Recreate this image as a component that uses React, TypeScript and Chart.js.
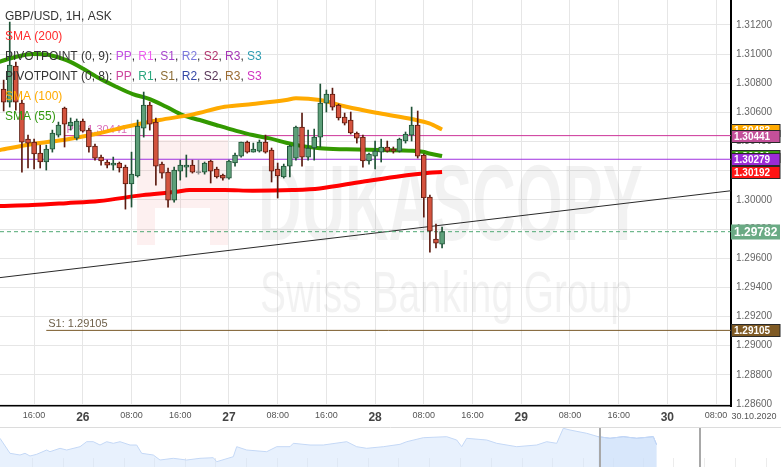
import React, { useEffect, useRef } from "react";
import { Chart, registerables } from "chart.js";

Chart.register(...registerables);

const FONT = "'Liberation Sans', Arial, Helvetica, sans-serif";

// ---- DATA (hours since 26.10.2020 00:00) ----
const candleHours = [
  -13, -12, -11, -10, -9, -8, -7, -6, -5, -4, -3, -2, -1,
  0, 1, 2, 3, 4, 5, 6, 7, 8, 9, 10, 11, 12, 13, 14, 15, 16, 17, 18, 19, 20, 21, 22, 23,
  24, 25, 26, 27, 28, 29, 30, 31, 32, 33, 34, 35, 36, 37, 38, 39, 40, 41, 42, 43, 44, 45, 46, 47,
  48, 49, 50, 51, 52, 53, 54, 55, 56, 57, 58, 59,
];
const opens = [
  1.3076, 1.30671, 1.30918, 1.30664, 1.30417, 1.30397, 1.30321, 1.3026, 1.30349, 1.30445, 1.3063, 1.30507, 1.30424,
  1.30541, 1.30479, 1.30369, 1.30294, 1.3026, 1.30239, 1.30253, 1.30225, 1.30109, 1.30164, 1.30493, 1.30651, 1.30534, 1.30246, 1.30191, 1.29999, 1.30198, 1.30225, 1.30239, 1.30187, 1.30191, 1.30267, 1.30212, 1.30171,
  1.3015, 1.30253, 1.30301, 1.30397, 1.30328, 1.30335, 1.30397, 1.30342, 1.30212, 1.30157, 1.30232, 1.30287, 1.305, 1.30294, 1.30356, 1.30431, 1.30664, 1.30726, 1.30651, 1.30568, 1.30548, 1.30459, 1.30431, 1.30267,
  1.30301, 1.30328, 1.30363, 1.30349, 1.30335, 1.30404, 1.30445, 1.30514, 1.30308, 1.3002, 1.29732, 1.29697,
];
const highs = [
  1.30822, 1.3122, 1.30946, 1.30685, 1.30445, 1.30417, 1.30376, 1.30376, 1.30479, 1.30534, 1.30637, 1.30562, 1.30555,
  1.30555, 1.30493, 1.30383, 1.30308, 1.30273, 1.30294, 1.3026, 1.30239, 1.30328, 1.30548, 1.3074, 1.30671, 1.30562, 1.3026, 1.30219, 1.30225, 1.30273, 1.30308, 1.30273, 1.30273, 1.3026, 1.30273, 1.30225, 1.30177,
  1.30273, 1.30321, 1.30397, 1.30404, 1.3039, 1.30411, 1.30445, 1.30356, 1.30253, 1.30246, 1.30376, 1.30507, 1.30596, 1.30479, 1.30486, 1.30795, 1.30754, 1.30767, 1.30658, 1.30596, 1.30603, 1.30466, 1.30445, 1.30321,
  1.30404, 1.30417, 1.30404, 1.30363, 1.30424, 1.30466, 1.30637, 1.3061, 1.30315, 1.30033, 1.29834, 1.29814,
];
const lows = [
  1.3061, 1.30637, 1.30616, 1.30191, 1.30219, 1.30212, 1.30219, 1.30205, 1.30328, 1.30431, 1.30363, 1.30479, 1.30411,
  1.30466, 1.30328, 1.30273, 1.30239, 1.30219, 1.30205, 1.30191, 1.29937, 1.29951, 1.30157, 1.30431, 1.30479, 1.30102, 1.3015, 1.29951, 1.29985, 1.30136, 1.30157, 1.30184, 1.30177, 1.30177, 1.30116, 1.3015, 1.30136,
  1.30143, 1.30232, 1.30294, 1.30321, 1.30328, 1.30328, 1.30321, 1.30123, 1.30013, 1.3015, 1.30157, 1.30273, 1.30232, 1.30273, 1.30273, 1.30363, 1.30603, 1.30616, 1.30548, 1.30514, 1.30452, 1.3039, 1.30225, 1.30246,
  1.30212, 1.3026, 1.30328, 1.30321, 1.30328, 1.3039, 1.30404, 1.30287, 1.29882, 1.29642, 1.2967, 1.2967,
];
const closes = [
  1.30671, 1.30925, 1.30671, 1.30397, 1.3039, 1.30315, 1.3026, 1.30349, 1.30459, 1.30514, 1.3052, 1.30534, 1.30541,
  1.30472, 1.30363, 1.30287, 1.30267, 1.30239, 1.30253, 1.30219, 1.30109, 1.30177, 1.30507, 1.30651, 1.3052, 1.30232, 1.30184, 1.29999, 1.30205, 1.30239, 1.30239, 1.30191, 1.30187, 1.30253, 1.30198, 1.30157, 1.3015,
  1.30267, 1.30308, 1.30397, 1.30328, 1.30349, 1.30397, 1.30328, 1.30198, 1.30164, 1.30232, 1.30369, 1.305, 1.30294, 1.30356, 1.30431, 1.30664, 1.30726, 1.30637, 1.30562, 1.30527, 1.30459, 1.30424, 1.30267, 1.30315,
  1.30335, 1.30363, 1.30335, 1.30335, 1.30417, 1.30452, 1.30514, 1.30301, 1.30013, 1.29786, 1.29704, 1.29782,
];

const sma200Hours = [-13.7, -8.3, -2.7, 2.7, 9.8, 15.4, 17.5, 23.3, 27.9, 34.4, 38.9, 45.9, 51.5, 56.9, 59];
const sma200Values = [1.29958, 1.29965, 1.29978, 1.29992, 1.30033, 1.30056, 1.30068, 1.30068, 1.30063, 1.30068, 1.30079, 1.30125, 1.30159, 1.30186, 1.30192];

const sma100Hours = [-13.7, -8.2, -2.7, 2.7, 7.1, 12.6, 18.1, 23.3, 27.9, 33.4, 35.0, 38.9, 43.3, 48.7, 54.2, 56.9, 59];
const sma100Values = [1.30342, 1.30383, 1.30415, 1.30457, 1.30502, 1.30548, 1.30587, 1.30639, 1.30658, 1.30685, 1.30697, 1.30685, 1.30639, 1.30594, 1.30553, 1.30525, 1.30483];

const sma55Hours = [-13.7, -10.9, -8.2, -5.5, -2.7, 0, 2.7, 5.5, 8.2, 11.0, 13.7, 16.4, 19.2, 21.9, 25.2, 27.9, 30.7, 33.4, 36.1, 38.9, 43.3, 48.7, 54.2, 55.8, 56.9, 59];
const sma55Values = [1.30948, 1.30982, 1.31001, 1.30994, 1.30959, 1.30902, 1.30834, 1.30776, 1.30726, 1.30692, 1.30639, 1.30582, 1.30548, 1.30514, 1.30474, 1.30445, 1.30422, 1.30392, 1.30369, 1.30354, 1.30347, 1.30342, 1.30337, 1.3033, 1.30319, 1.30301];

const pivotLevels = [1.30441, 1.30279, 1.29105];
const pivotStartHours = [-3, -13.6, -6];
const pivotLabels = ["PP: 1.30441", "", "S1: 1.29105"];
const currentPrice = 1.29782;
const trendHours = [-13.6, 106.45];
const trendValues = [1.29467, 1.30063];

const X_MIN = -13.6;
const X_MAX = 106.45;
const Y_MIN = 1.285863;
const Y_MAX = 1.313715;
const xTickHours = [-8, 0, 8, 16, 24, 32, 40, 48, 56, 64, 72, 80, 88, 96, 104];
const xTickLabels = ["16:00", "26", "08:00", "16:00", "27", "08:00", "16:00", "28", "08:00", "16:00", "29", "08:00", "16:00", "30", "08:00"];
const dayTickFlags = [false, true, false, false, true, false, false, true, false, false, true, false, false, true, false];
const yTickValues = [1.286, 1.288, 1.29, 1.292, 1.294, 1.296, 1.298, 1.3, 1.302, 1.304, 1.306, 1.308, 1.31, 1.312];
const cornerDateLabel = "30.10.2020";

// navigator (overview) series
const navX = [0, 10, 20, 25, 30, 36.7, 46.7, 50, 60, 66.7, 80, 86.7, 93.3, 100, 106.7, 113.3, 120, 130, 136.7, 141.7, 153.3, 160, 173.3, 186.7, 200, 213.3, 216.7, 233.3, 236.7, 246.7, 266.7, 276.7, 290, 293.3, 310, 323.3, 346.7, 356.7, 366.7, 383.3, 400, 406.7, 423.3, 446.7, 456.7, 461.7, 466.7, 486.7, 496.7, 516.7, 536.7, 546.7, 556.7, 563.3, 570, 586.7, 598.3, 610, 623.3, 636.7, 653.3, 656.7];
const navV = [28.7, 13.7, 12, 13.7, 11, 12.7, 17, 15.3, 18.7, 17, 20.3, 25.3, 25.3, 22, 25.3, 23.7, 25.3, 22, 22, 13.7, 12, 7, 8.7, 7, 8.7, 9.3, 5.3, 10.3, 20.3, 17, 15.3, 20.3, 20.3, 23.7, 22, 22, 25.3, 20.3, 18.7, 20.3, 22.7, 25.3, 29.3, 30.3, 27, 20.3, 28.7, 27, 23.7, 20.3, 22, 25.3, 23.7, 38.7, 37, 33.7, 30.3, 28.7, 30.3, 28.7, 30.3, 22];
const navSelectionStart = 598;
const navHandles = [600, 700];
const navTicks = [32, 63, 93, 124, 154, 185, 215, 246, 277, 307, 337, 368, 398, 429, 460, 491, 522, 552, 583, 613, 643, 673, 704, 735, 766];

const legendLines: { t: string; c: string }[][] = [
  [{ t: "GBP/USD, 1H, ASK", c: "#333" }],
  [{ t: "SMA (200)", c: "#ff2b2b" }],
  [
    { t: "PIVOTPOINT (0, 9): ", c: "#333" }, { t: "PP", c: "#c24ee0" }, { t: ", ", c: "#333" },
    { t: "R1", c: "#ee5cee" }, { t: ", ", c: "#333" }, { t: "S1", c: "#a642cc" }, { t: ", ", c: "#333" },
    { t: "R2", c: "#7a78dc" }, { t: ", ", c: "#333" }, { t: "S2", c: "#b0336c" }, { t: ", ", c: "#333" },
    { t: "R3", c: "#a434b4" }, { t: ", ", c: "#333" }, { t: "S3", c: "#2d9bb0" },
  ],
  [
    { t: "PIVOTPOINT (0, 8): ", c: "#333" }, { t: "PP", c: "#cc459e" }, { t: ", ", c: "#333" },
    { t: "R1", c: "#2aa87e" }, { t: ", ", c: "#333" }, { t: "S1", c: "#8c6c34" }, { t: ", ", c: "#333" },
    { t: "R2", c: "#3447a6" }, { t: ", ", c: "#333" }, { t: "S2", c: "#573557" }, { t: ", ", c: "#333" },
    { t: "R3", c: "#9a6b32" }, { t: ", ", c: "#333" }, { t: "S3", c: "#d032c0" },
  ],
  [{ t: "SMA (100)", c: "#ffaa00" }],
  [{ t: "SMA (55)", c: "#339911" }],
];

const UP_FILL = "#5d9f79";
const UP_EDGE = "#1f5236";
const DN_FILL = "#d4533e";
const DN_EDGE = "#5c1a0f";
const FLAT = "#8c8c8c";

export default function App() {
  const mainRef = useRef<HTMLCanvasElement>(null);
  const navRef = useRef<HTMLCanvasElement>(null);

  useEffect(() => {
    document.body.style.margin = "0";
    Chart.defaults.font.family = FONT;

    const dir = (i: number) => (closes[i] > opens[i] ? 1 : closes[i] < opens[i] ? -1 : 0);
    const bodyFill = candleHours.map((_, i) => (dir(i) > 0 ? UP_FILL : dir(i) < 0 ? DN_FILL : FLAT));
    const bodyEdge = candleHours.map((_, i) => (dir(i) > 0 ? UP_EDGE : dir(i) < 0 ? DN_EDGE : FLAT));

    const fullSpan = (level: number, start: number) => [
      { x: start, y: level },
      { x: X_MAX, y: level },
    ];

    const zeroPad = (s: any) => {
      s.paddingLeft = 0;
      s.paddingRight = 0;
      s.paddingTop = 0;
      s.paddingBottom = 0;
    };

    const overlay = {
      id: "overlay",
      beforeDatasetsDraw(chart: any) {
        const { ctx, chartArea: a, scales } = chart;
        const x = scales.x;
        const y = scales.y;
        ctx.save();
        ctx.beginPath();
        ctx.rect(a.left, a.top, a.right - a.left, a.bottom - a.top);
        ctx.clip();
        // watermark
        ctx.fillStyle = "rgba(225, 70, 70, 0.08)";
        ctx.fillRect(137, 140, 91, 68);
        ctx.fillRect(137, 208, 18, 37);
        ctx.fillRect(210, 208, 18, 37);
        ctx.fillStyle = "rgba(0, 0, 0, 0.05)";
        ctx.textBaseline = "alphabetic";
        ctx.textAlign = "left";
        ctx.font = `bold 108px ${FONT}`;
        ctx.fillText("DUKASCOPY", 258, 240, 385);
        ctx.font = `58px ${FONT}`;
        ctx.fillText("Swiss Banking Group", 260, 312, 372);
        // pivot labels
        ctx.font = `11px ${FONT}`;
        pivotLabels.forEach((lab, i) => {
          if (!lab) return;
          const px = x.getPixelForValue(pivotStartHours[i]);
          const py = y.getPixelForValue(pivotLevels[i]);
          ctx.fillStyle = i === 0 ? "rgba(204, 60, 160, 0.75)" : "#6e604a";
          ctx.fillText(lab, px + 2, py - 3);
        });
        ctx.restore();
      },
      afterDraw(chart: any) {
        const { ctx, chartArea: a, scales } = chart;
        const y = scales.y;
        ctx.save();
        // value boxes on the price axis
        const boxes = [
          { v: sma100Values[sma100Values.length - 1], bg: "#ffaa00", h: 12, fs: 10, edge: true },
          { v: sma55Values[sma55Values.length - 1], bg: "#3a9a10", h: 12, fs: 10, edge: true },
          { v: pivotLevels[0], bg: "#c4509a", h: 12, fs: 10, edge: true },
          { v: pivotLevels[1], bg: "#9b2bd6", h: 12, fs: 10, edge: true },
          { v: sma200Values[sma200Values.length - 1], bg: "#ff1414", h: 12, fs: 10, edge: true },
          { v: currentPrice, bg: "#6aaa84", h: 15, fs: 12, edge: false },
          { v: pivotLevels[2], bg: "#7f5a24", h: 12, fs: 10, edge: true },
        ];
        boxes.forEach((b) => {
          const py = y.getPixelForValue(b.v);
          const top = Math.round(py - b.h / 2) + 0.5;
          ctx.fillStyle = b.bg;
          ctx.fillRect(a.right, top, 49, b.h);
          if (b.edge) {
            ctx.strokeStyle = "#2a2a2a";
            ctx.lineWidth = 1;
            ctx.strokeRect(a.right + 0.5, top, 48.5, b.h);
          }
          ctx.fillStyle = "#fff";
          ctx.font = `bold ${b.fs}px ${FONT}`;
          ctx.textAlign = "left";
          ctx.textBaseline = "middle";
          ctx.fillText(b.v.toFixed(5), a.right + 3, top + b.h / 2 + 0.5);
        });
        // legend
        ctx.font = `12px ${FONT}`;
        ctx.textBaseline = "middle";
        const legendY = [16.5, 36.5, 56.5, 76.5, 97, 116.5];
        legendLines.forEach((parts, li) => {
          let cx = 5;
          parts.forEach((p) => {
            ctx.fillStyle = p.c;
            ctx.fillText(p.t, cx, legendY[li]);
            cx += ctx.measureText(p.t).width;
          });
        });
        // corner date label
        ctx.font = `9px ${FONT}`;
        ctx.fillStyle = "#555";
        ctx.textAlign = "center";
        ctx.fillText(cornerDateLabel, 754, 417);
        ctx.restore();
      },
    };

    const main = new Chart(mainRef.current as HTMLCanvasElement, {
      type: "bar",
      data: {
        datasets: [
          {
            type: "bar",
            label: "bodies",
            order: 0,
            data: candleHours.map((h, i) => ({ x: h, y: [opens[i], closes[i]] })) as any,
            backgroundColor: bodyFill,
            borderColor: bodyEdge,
            borderWidth: 1,
            borderSkipped: false,
            barThickness: 5,
            minBarLength: 1,
            grouped: false,
          } as any,
          {
            type: "bar",
            label: "wicks",
            order: 1,
            data: candleHours.map((h, i) => ({ x: h, y: [lows[i], highs[i]] })) as any,
            backgroundColor: bodyEdge,
            borderWidth: 0,
            barThickness: 1,
            grouped: false,
          } as any,
          {
            type: "line",
            label: "SMA (200)",
            order: 2,
            data: sma200Hours.map((h, i) => ({ x: h, y: sma200Values[i] })),
            borderColor: "#ff0000",
            borderWidth: 4,
            pointRadius: 0,
            cubicInterpolationMode: "monotone",
          } as any,
          {
            type: "line",
            label: "SMA (100)",
            order: 2,
            data: sma100Hours.map((h, i) => ({ x: h, y: sma100Values[i] })),
            borderColor: "#ffaa00",
            borderWidth: 4,
            pointRadius: 0,
            cubicInterpolationMode: "monotone",
          } as any,
          {
            type: "line",
            label: "SMA (55)",
            order: 2,
            data: sma55Hours.map((h, i) => ({ x: h, y: sma55Values[i] })),
            borderColor: "#339900",
            borderWidth: 4,
            pointRadius: 0,
            cubicInterpolationMode: "monotone",
          } as any,
          {
            type: "line",
            label: "PP",
            order: 3,
            data: fullSpan(pivotLevels[0], pivotStartHours[0]),
            borderColor: "#cc3399",
            borderWidth: 1,
            pointRadius: 0,
          } as any,
          {
            type: "line",
            label: "PP2",
            order: 3,
            data: fullSpan(pivotLevels[1], pivotStartHours[1]),
            borderColor: "#a030e0",
            borderWidth: 1,
            pointRadius: 0,
          } as any,
          {
            type: "line",
            label: "S1",
            order: 3,
            data: fullSpan(pivotLevels[2], pivotStartHours[2]),
            borderColor: "#7a5a2a",
            borderWidth: 1,
            pointRadius: 0,
          } as any,
          {
            type: "line",
            label: "price",
            order: 3,
            data: fullSpan(currentPrice, X_MIN),
            borderColor: "#4fa873",
            borderWidth: 1,
            borderDash: [4, 3],
            pointRadius: 0,
          } as any,
          {
            type: "line",
            label: "trend",
            order: 3,
            data: trendHours.map((h, i) => ({ x: h, y: trendValues[i] })),
            borderColor: "#2a2a2a",
            borderWidth: 1,
            pointRadius: 0,
          } as any,
        ],
      },
      options: {
        responsive: false,
        animation: false,
        devicePixelRatio: 1,
        events: [],
        layout: { padding: 0 },
        plugins: { legend: { display: false }, tooltip: { enabled: false } },
        scales: {
          x: {
            type: "linear",
            min: X_MIN,
            max: X_MAX,
            offset: false,
            afterBuildTicks: (s: any) => {
              s.ticks = xTickHours.map((v) => ({ value: v }));
            },
            afterFit: (s: any) => {
              s.height = 21;
              zeroPad(s);
            },
            grid: { color: "#e6e6e6", drawTicks: false, offset: false },
            border: { display: true, color: "#000", width: 1.5 },
            ticks: {
              autoSkip: false,
              maxRotation: 0,
              padding: 4,
              callback: (_v: any, i: number) => xTickLabels[i],
              font: (c: any) =>
                dayTickFlags[c.index]
                  ? { size: 12, weight: "bold", family: FONT }
                  : { size: 9, family: FONT },
              color: (c: any) => (dayTickFlags[c.index] ? "#444" : "#555"),
            },
          } as any,
          y: {
            type: "linear",
            position: "right",
            min: Y_MIN,
            max: Y_MAX,
            afterBuildTicks: (s: any) => {
              s.ticks = yTickValues.map((v) => ({ value: v }));
            },
            afterFit: (s: any) => {
              s.width = 50;
              zeroPad(s);
            },
            grid: { color: "#e6e6e6", drawTicks: false },
            border: { display: true, color: "#000", width: 2 },
            ticks: {
              padding: 5,
              font: { size: 10, family: FONT },
              color: "#666",
              callback: (v: any) => Number(v).toFixed(5),
            },
          } as any,
        },
      } as any,
      plugins: [overlay],
    });

    const navPlugin = {
      id: "navDeco",
      beforeDatasetsDraw(chart: any) {
        const { ctx, scales } = chart;
        ctx.save();
        ctx.strokeStyle = "#ececec";
        ctx.lineWidth = 1;
        navTicks.forEach((t) => {
          const px = Math.round(scales.x.getPixelForValue(t)) + 0.5;
          ctx.beginPath();
          ctx.moveTo(px, 31);
          ctx.lineTo(px, 40);
          ctx.stroke();
        });
        ctx.restore();
      },
      afterDatasetsDraw(chart: any) {
        const { ctx, scales, width } = chart;
        ctx.save();
        ctx.strokeStyle = "#dcdcdc";
        ctx.lineWidth = 1;
        ctx.beginPath();
        ctx.moveTo(0, 0.5);
        ctx.lineTo(width, 0.5);
        ctx.stroke();
        ctx.strokeStyle = "#a8a8a8";
        ctx.lineWidth = 2;
        navHandles.forEach((h) => {
          const px = Math.round(scales.x.getPixelForValue(h));
          ctx.beginPath();
          ctx.moveTo(px, 1);
          ctx.lineTo(px, 40);
          ctx.stroke();
        });
        ctx.restore();
      },
    };

    const navPoints = navX.map((x, i) => ({ x, y: navV[i] }));
    const nav = new Chart(navRef.current as HTMLCanvasElement, {
      type: "line",
      data: {
        datasets: [
          {
            data: navPoints,
            fill: "origin",
            backgroundColor: "rgba(214, 229, 251, 0.55)",
            borderColor: "#c4d8f6",
            borderWidth: 1,
            pointRadius: 0,
          },
          {
            data: navPoints.filter((p) => p.x >= navSelectionStart),
            fill: "origin",
            backgroundColor: "rgba(190, 213, 248, 0.55)",
            borderColor: "#9dbcef",
            borderWidth: 1,
            pointRadius: 0,
          },
        ],
      },
      options: {
        responsive: false,
        animation: false,
        devicePixelRatio: 1,
        events: [],
        layout: { padding: 0 },
        plugins: { legend: { display: false }, tooltip: { enabled: false } },
        scales: {
          x: { type: "linear", min: 0, max: 781, display: false },
          y: { min: 0, max: 40, display: false },
        },
      } as any,
      plugins: [navPlugin],
    });

    return () => {
      main.destroy();
      nav.destroy();
    };
  }, []);

  return (
    <div style={{ width: 781, height: 467, background: "#fff", overflow: "hidden" }}>
      <canvas ref={mainRef} width={781} height={427} style={{ display: "block" }} />
      <canvas ref={navRef} width={781} height={40} style={{ display: "block" }} />
    </div>
  );
}
